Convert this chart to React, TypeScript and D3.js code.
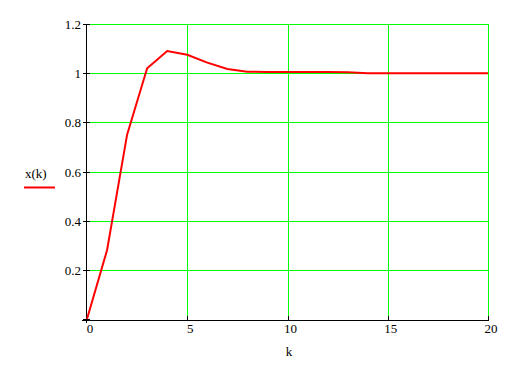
import React from "react";
import * as d3 from "d3";

const kValues = d3.range(0, 21);
const xValues = [0, 0.28, 0.75, 1.02, 1.09, 1.075, 1.043, 1.017, 1.006, 1.005, 1.005, 1.005, 1.005, 1.004, 1.0, 1.0, 1.0, 1.0, 1.0, 1.0, 1.0];
const xTicks = [0, 5, 10, 15, 20];
const yTicks = [0, 0.2, 0.4, 0.6, 0.8, 1, 1.2];
const yTickLabels = ["", "0.2", "0.4", "0.6", "0.8", "1", "1.2"];

const W = 529;
const H = 365;
const FONT = "Liberation Serif, Times New Roman, DejaVu Serif, serif";

export default function App() {
  const x = d3.scaleLinear().domain([0, 20]).range([87, 488]);
  const y = d3.scaleLinear().domain([0, 1.2]).range([319, 24]);
  const line = d3
    .line<number>()
    .x((_, i) => x(kValues[i]))
    .y((d) => y(d));

  const ts = { fontFamily: FONT, fontSize: "13px" };

  return (
    <svg
      width={W}
      height={H}
      style={{ position: "absolute", left: 0, top: 0, background: "#fff" }}
    >
      {/* grid */}
      {yTicks.filter((v) => v > 0).map((v) => (
        <line key={"gy" + v} x1={90} x2={x(20)} y1={Math.round(y(v)) + 0.5} y2={Math.round(y(v)) + 0.5} stroke="#00ff00" strokeWidth={1} />
      ))}
      {xTicks.filter((v) => v > 0).map((v) => (
        <line key={"gx" + v} x1={Math.round(x(v)) + 0.5} x2={Math.round(x(v)) + 0.5} y1={y(1.2)} y2={316} stroke="#00ff00" strokeWidth={1} />
      ))}
      {/* axes */}
      <line x1={82} x2={x(20)} y1={320.5} y2={320.5} stroke="#000" strokeWidth={1} />
      <line x1={86.5} x2={86.5} y1={y(1.2)} y2={323} stroke="#000" strokeWidth={1} />
      {yTicks.map((v) => (
        <line key={"ty" + v} x1={83} x2={90} y1={Math.round(y(v)) + 0.5} y2={Math.round(y(v)) + 0.5} stroke="#000" strokeWidth={1} />
      ))}
      {xTicks.map((v) => (
        <line key={"tx" + v} x1={Math.round(x(v)) + 0.5} x2={Math.round(x(v)) + 0.5} y1={316} y2={321} stroke="#000" strokeWidth={1} />
      ))}
      {/* tick labels */}
      {yTicks.map((v, i) => (
        <text key={"ly" + v} x={81} y={y(v) + 5} textAnchor="end" style={ts} fill="#000">
          {yTickLabels[i]}
        </text>
      ))}
      {xTicks.map((v) => (
        <text key={"lx" + v} x={x(v) + 3} y={333} textAnchor="middle" style={ts} fill="#000">
          {String(v)}
        </text>
      ))}
      <text x={289} y={356} textAnchor="middle" style={ts} fill="#000">k</text>
      {/* legend */}
      <text x={25} y={178} style={ts} fill="#000">x(k)</text>
      <line x1={24} x2={55} y1={187.5} y2={187.5} stroke="#ff0000" strokeWidth={2} />
      {/* series */}
      <path d={line(xValues) || ""} fill="none" stroke="#ff0000" strokeWidth={2} />
    </svg>
  );
}
